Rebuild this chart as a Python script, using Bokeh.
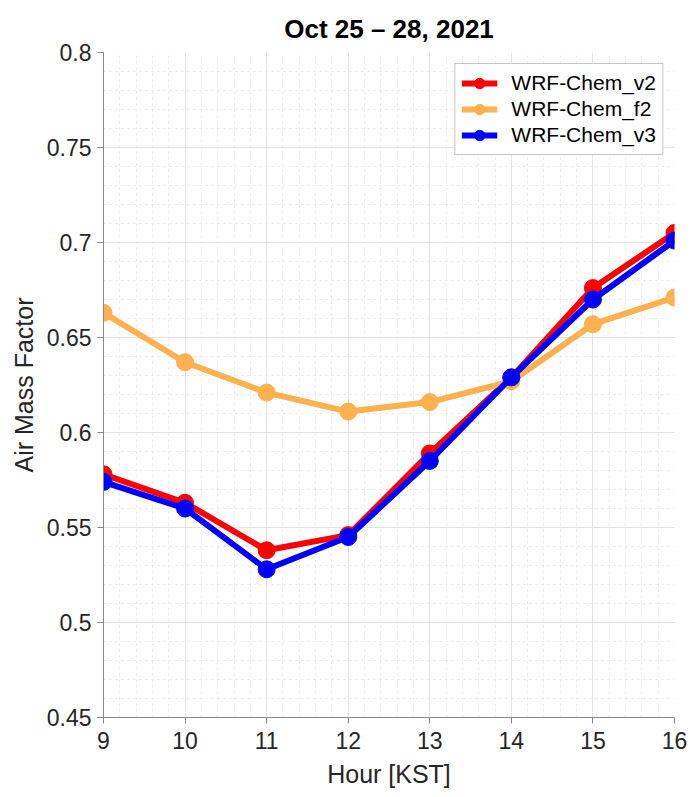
from bokeh.plotting import figure
from bokeh.models import (Range1d, SingleIntervalTicker, Legend, LegendItem, Title)
from bokeh.embed import file_html
from bokeh.resources import INLINE

hours = [9, 10, 11, 12, 13, 14, 15, 16]
v2 = [0.578, 0.563, 0.538, 0.546, 0.589, 0.629, 0.676, 0.705]
f2 = [0.663, 0.637, 0.621, 0.611, 0.616, 0.627, 0.657, 0.671]
v3 = [0.574, 0.560, 0.528, 0.545, 0.585, 0.629, 0.670, 0.701]

series = [
    ("WRF-Chem_v2", v2, "#ff0000"),
    ("WRF-Chem_f2", f2, "#ffb04f"),
    ("WRF-Chem_v3", v3, "#0000ff"),
]

FONT = "Liberation Sans"

p = figure(width=691, height=797, output_backend="svg", toolbar_location=None,
           x_range=Range1d(9, 16), y_range=Range1d(0.45, 0.8),
           min_border_left=103, min_border_right=17, min_border_top=52,
           min_border_bottom=80, outline_line_color=None,
           background_fill_color="white", border_fill_color="white")

p.title = Title(text="Oct 25 \u2013 28, 2021", align="center",
                text_font=FONT, text_font_size="26px", text_font_style="bold",
                text_color="black", offset=0, standoff=17)

p.xaxis.ticker = SingleIntervalTicker(interval=1, num_minor_ticks=5)
p.yaxis.ticker = SingleIntervalTicker(interval=0.05, num_minor_ticks=5)
p.xaxis.axis_label = "Hour [KST]"
p.yaxis.axis_label = "Air Mass Factor"

for ax in (p.xaxis, p.yaxis):
    ax.axis_label_text_font = FONT
    ax.axis_label_text_font_size = "25px"
    ax.axis_label_text_font_style = "normal"
    ax.axis_label_text_color = "#262626"
    ax.major_label_text_font = FONT
    ax.major_label_text_font_size = "23px"
    ax.major_label_text_color = "#262626"
    ax.axis_line_color = "#888888"
    ax.major_tick_line_color = "#888888"
    ax.major_tick_out = 6
    ax.major_tick_in = 0
    ax.minor_tick_line_color = None
p.xaxis.axis_label_standoff = 8
p.yaxis.axis_label_standoff = 6
p.xaxis.major_label_standoff = 8
p.yaxis.major_label_standoff = 6

for g in (p.xgrid, p.ygrid):
    g.grid_line_color = "#e3e3e3"
    g.grid_line_width = 1
    g.minor_grid_line_color = "#e6e6e6"
    g.minor_grid_line_dash = "dotted"
    g.minor_grid_line_width = 1

items = []
for name, vals, color in series:
    l = p.line(hours, vals, line_color=color, line_width=6)
    s = p.scatter(hours, vals, marker="circle", size=17, fill_color=color,
                  line_color=color)
    items.append(LegendItem(label=name, renderers=[l, s]))

legend = Legend(items=items, location="top_right",
                label_text_font=FONT, label_text_font_size="21px",
                label_text_color="black",
                border_line_color="#8c8c8c", border_line_width=1,
                background_fill_color="white", background_fill_alpha=1,
                glyph_width=36, glyph_height=26, label_standoff=14,
                spacing=0, padding=6, margin=11)
p.add_layout(legend, "center")

open("out.html", "w").write(file_html(p, INLINE))
